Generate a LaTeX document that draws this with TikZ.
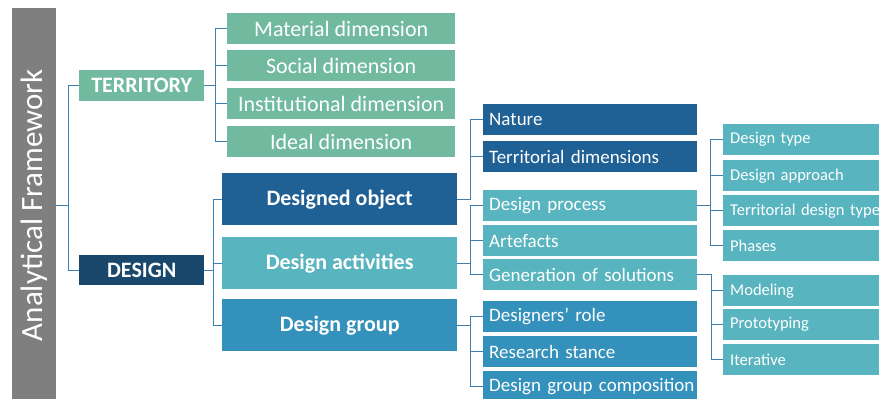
\documentclass[tikz,border=0pt]{standalone}
\usepackage{fontspec}
\setmainfont{Carlito}
\usepackage{graphicx}

\definecolor{framegray}{HTML}{7F7F7F}
\definecolor{terrgreen}{HTML}{71BAA0}
\definecolor{designnavy}{HTML}{1A486C}
\definecolor{objblue}{HTML}{1F6095}
\definecolor{actteal}{HTML}{58B4BF}
\definecolor{groupblue}{HTML}{3491BB}
\definecolor{linkblue}{HTML}{3F7FB0}

\begin{document}
\begin{tikzpicture}[x=1pt, y=-1pt,
  frame/.style={fill=framegray, text=white, minimum width=44pt, minimum height=394pt, inner sep=0pt, anchor=north west, font=\fontsize{31}{36}\selectfont},
  topbox/.style={text=white, minimum width=125pt, minimum height=31pt, inner sep=0pt, anchor=north west, font=\bfseries\fontsize{22}{26}\selectfont},
  dimbox/.style={fill=terrgreen, text=white, minimum width=228pt, minimum height=31pt, inner sep=0pt, anchor=north west, font=\fontsize{22}{26}\selectfont},
  mainbox/.style={text=white, minimum width=235pt, minimum height=52pt, inner sep=0pt, anchor=north west, font=\bfseries\fontsize{22}{26}\selectfont},
  subbox/.style={text=white, minimum width=214pt, minimum height=31pt, inner xsep=6pt, inner ysep=0pt, text width=202pt, align=left, anchor=north west, font=\fontsize{19}{23}\selectfont},
  leafbox/.style={fill=actteal, text=white, minimum width=170pt, minimum height=31pt, inner xsep=7pt, inner ysep=0pt, text width=156pt, align=left, anchor=north west, font=\fontsize{16.5}{20}\selectfont},
  link/.style={draw=linkblue, line width=1.1pt},
]
\useasboundingbox (0,0) rectangle (879,399);
\clip (0,0) rectangle (879,399);

% left frame
\node[frame] (frame) at (12,8) {\rotatebox{90}{Analytical Framework}};

% first level
\node[topbox, fill=terrgreen] (terr) at (79,70) {TERRITORY};
\node[topbox, fill=designnavy, minimum height=30pt] (design) at (79,255) {DESIGN};

% territory dimensions
\node[dimbox] (material) at (227,13) {Material dimension};
\node[dimbox] (social) at (227,50) {Social dimension};
\node[dimbox] (institutional) at (227,88) {Institutional dimension};
\node[dimbox] (ideal) at (227,126) {Ideal dimension};

% design branches
\node[mainbox, fill=objblue] (object) at (222,173) {Designed object};
\node[mainbox, fill=actteal] (activities) at (222,237) {Design activities};
\node[mainbox, fill=groupblue] (group) at (222,299) {Design group};

\node[subbox, fill=objblue] (nature) at (483,104) {Nature};
\node[subbox, fill=objblue] (terrdim) at (483,141) {Territorial dimensions};
\node[subbox, fill=actteal] (process) at (483,190) {Design process};
\node[subbox, fill=actteal] (artefacts) at (483,225) {Artefacts};
\node[subbox, fill=actteal] (generation) at (483,259) {Generation of solutions};
\node[subbox, fill=groupblue] (role) at (483,301) {Designers’ role};
\node[subbox, fill=groupblue] (stance) at (483,336) {Research stance};
\node[subbox, fill=groupblue] (composition) at (483,371) {\mbox{Design group composition}};

\node[leafbox] (dtype) at (723,124) {Design type};
\node[leafbox] (approach) at (723,160) {Design approach};
\node[leafbox] (tdtype) at (723,195) {Territorial design type};
\node[leafbox] (phases) at (723,230) {Phases};
\node[leafbox] (modeling) at (723,275) {Modeling};
\node[leafbox] (prototyping) at (723,309) {Prototyping};
\node[leafbox] (iterative) at (723,344) {Iterative};

% connectors
\foreach \t in {terr, design}
  \draw[link] (frame.east) -- ++(12,0) |- (\t.west);
\foreach \t in {material, social, institutional, ideal}
  \draw[link] (terr.east) -- ++(11,0) |- (\t.west);
\foreach \t in {object, activities, group}
  \draw[link] (design.east) -- ++(9,0) |- (\t.west);
\foreach \t in {nature, terrdim}
  \draw[link] (object.east) -- ++(13,0) |- (\t.west);
\foreach \t in {process, artefacts, generation}
  \draw[link] (activities.east) -- ++(13,0) |- (\t.west);
\foreach \t in {role, stance, composition}
  \draw[link] (group.east) -- ++(13,0) |- (\t.west);
\foreach \t in {dtype, approach, tdtype, phases}
  \draw[link] (process.east) -- ++(13,0) |- (\t.west);
\foreach \t in {modeling, prototyping, iterative}
  \draw[link] (generation.east) -- ++(14,0) |- (\t.west);
\end{tikzpicture}
\end{document}
